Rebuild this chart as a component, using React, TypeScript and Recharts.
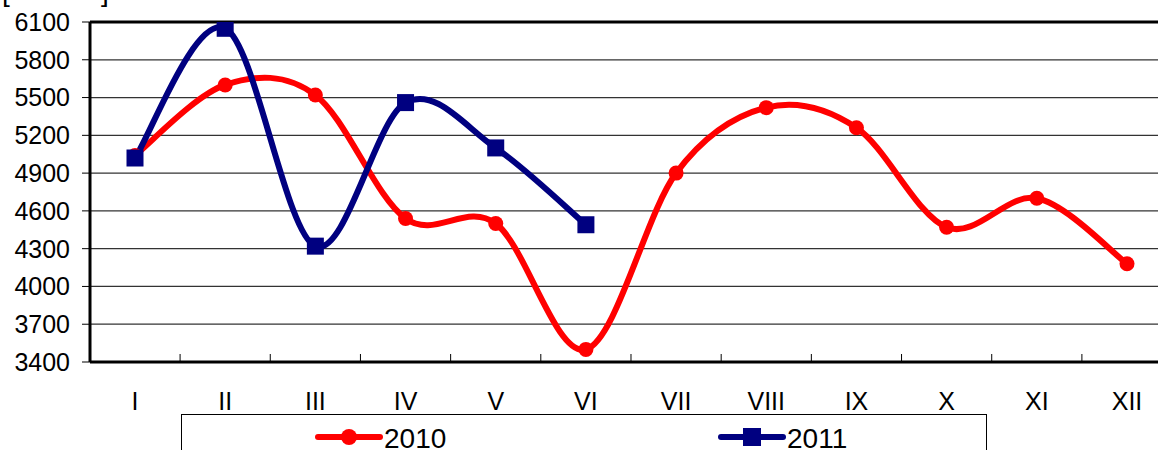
import React from 'react';
import { LineChart, Line, XAxis, YAxis, CartesianGrid, ReferenceLine } from 'recharts';

const months = ['I', 'II', 'III', 'IV', 'V', 'VI', 'VII', 'VIII', 'IX', 'X', 'XI', 'XII'];
const values2010 = [5040, 5600, 5520, 4540, 4500, 3500, 4900, 5420, 5260, 4470, 4700, 4180];
const values2011 = [5020, 6050, 4320, 5460, 5100, 4490];
const yTicks = [3400, 3700, 4000, 4300, 4600, 4900, 5200, 5500, 5800, 6100];

const RED = '#FF0000';
const NAVY = '#000080';

const data = months.map((m, i) => ({
  month: m,
  y2010: values2010[i],
  y2011: i < values2011.length ? values2011[i] : null,
}));

// Excel-like smoothing (Catmull-Rom via bezier segments)
const excelCurve = (context: any) => {
  let pts: number[][] = [];
  return {
    areaStart() {},
    areaEnd() {},
    lineStart() {
      pts = [];
    },
    point(x: number, y: number) {
      pts.push([+x, +y]);
    },
    lineEnd() {
      if (!pts.length) return;
      context.moveTo(pts[0][0], pts[0][1]);
      for (let i = 0; i < pts.length - 1; i++) {
        const p0 = pts[i - 1] || pts[i];
        const p1 = pts[i];
        const p2 = pts[i + 1];
        const p3 = pts[i + 2] || pts[i + 1];
        context.bezierCurveTo(
          p1[0] + (p2[0] - p0[0]) / 6,
          p1[1] + (p2[1] - p0[1]) / 6,
          p2[0] - (p3[0] - p1[0]) / 6,
          p2[1] - (p3[1] - p1[1]) / 6,
          p2[0],
          p2[1]
        );
      }
    },
  };
};

const SquareDot = (props: any) => {
  const { cx, cy } = props;
  if (cx == null || cy == null) return null;
  return <rect x={cx - 8.5} y={cy - 8.5} width={17} height={17} fill={NAVY} />;
};

const CircleDot = (props: any) => {
  const { cx, cy } = props;
  if (cx == null || cy == null) return null;
  return <circle cx={cx} cy={cy} r={7.5} fill={RED} />;
};

const TICK_MARGIN = 30;

// month label at the category centre, small tick mark on the category boundary
const MonthTick = (props: any) => {
  const { x, y, payload, index, width } = props;
  const half = width / months.length / 2;
  const axisY = y - TICK_MARGIN;
  return (
    <g>
      {index < months.length - 1 && (
        <line x1={x + half} x2={x + half} y1={axisY} y2={axisY - 8} stroke="#000" strokeWidth={1} />
      )}
      <text x={x} y={y} dy="0.71em" textAnchor="middle" fill="#000" fontSize={25}>
        {payload.value}
      </text>
    </g>
  );
};

const font = '"Liberation Sans", Arial, sans-serif';

const App = () => {
  return (
    <div
      style={{
        position: 'absolute',
        left: 0,
        top: 0,
        width: 1158,
        height: 450,
        overflow: 'hidden',
        background: '#fff',
        fontFamily: font,
      }}
    >
      <div style={{ position: 'absolute', left: 2, top: -24, fontSize: 28, color: '#000' }}>[</div>
      <div style={{ position: 'absolute', left: 101, top: -24, fontSize: 28, color: '#000' }}>]</div>

      <LineChart
        width={1180}
        height={450}
        data={data}
        margin={{ top: 22, right: 8, left: 0, bottom: 0 }}
        style={{ fontFamily: font }}
      >
        <CartesianGrid vertical={false} stroke="#333" strokeWidth={1.3} />
        <XAxis
          dataKey="month"
          height={88}
          padding={{ left: 45, right: 45 }}
          axisLine={{ stroke: '#000', strokeWidth: 3 }}
          tickLine={false}
          tickSize={0}
          tickMargin={TICK_MARGIN}
          tick={<MonthTick />}
          interval={0}
        />
        <YAxis
          width={90}
          domain={[3400, 6100]}
          ticks={yTicks}
          interval={0}
          allowDataOverflow
          axisLine={{ stroke: '#000', strokeWidth: 3 }}
          tickLine={{ stroke: '#000', strokeWidth: 1 }}
          tickSize={8}
          tickMargin={12}
          tick={{ fill: '#000', fontSize: 25 }}
        />
        <ReferenceLine y={6100} stroke="#000" strokeWidth={3} />
        <Line
          dataKey="y2010"
          type={excelCurve as any}
          stroke={RED}
          strokeWidth={6}
          dot={<CircleDot />}
          activeDot={false}
          isAnimationActive={false}
        />
        <Line
          dataKey="y2011"
          type={excelCurve as any}
          stroke={NAVY}
          strokeWidth={6}
          dot={<SquareDot />}
          activeDot={false}
          isAnimationActive={false}
        />
      </LineChart>

      {/* legend */}
      <div
        style={{
          position: 'absolute',
          left: 181,
          top: 414,
          width: 806,
          height: 60,
          border: '1px solid #000',
          boxSizing: 'border-box',
        }}
      />
      <div style={{ position: 'absolute', left: 314, top: 418, display: 'flex', alignItems: 'center' }}>
        <svg width={70} height={30}>
          <line x1={4} y1={16} x2={66} y2={16} stroke={RED} strokeWidth={6} strokeLinecap="round" />
          <circle cx={35} cy={16} r={8} fill={RED} />
        </svg>
        <span style={{ fontSize: 28, lineHeight: '30px', marginTop: 6 }}>2010</span>
      </div>
      <div style={{ position: 'absolute', left: 717, top: 418, display: 'flex', alignItems: 'center' }}>
        <svg width={70} height={30}>
          <line x1={4} y1={16} x2={66} y2={16} stroke={NAVY} strokeWidth={6} strokeLinecap="round" />
          <rect x={26} y={7} width={18} height={18} fill={NAVY} />
        </svg>
        <span style={{ fontSize: 28, lineHeight: '30px', marginTop: 6 }}>2011</span>
      </div>
    </div>
  );
};

export default App;
